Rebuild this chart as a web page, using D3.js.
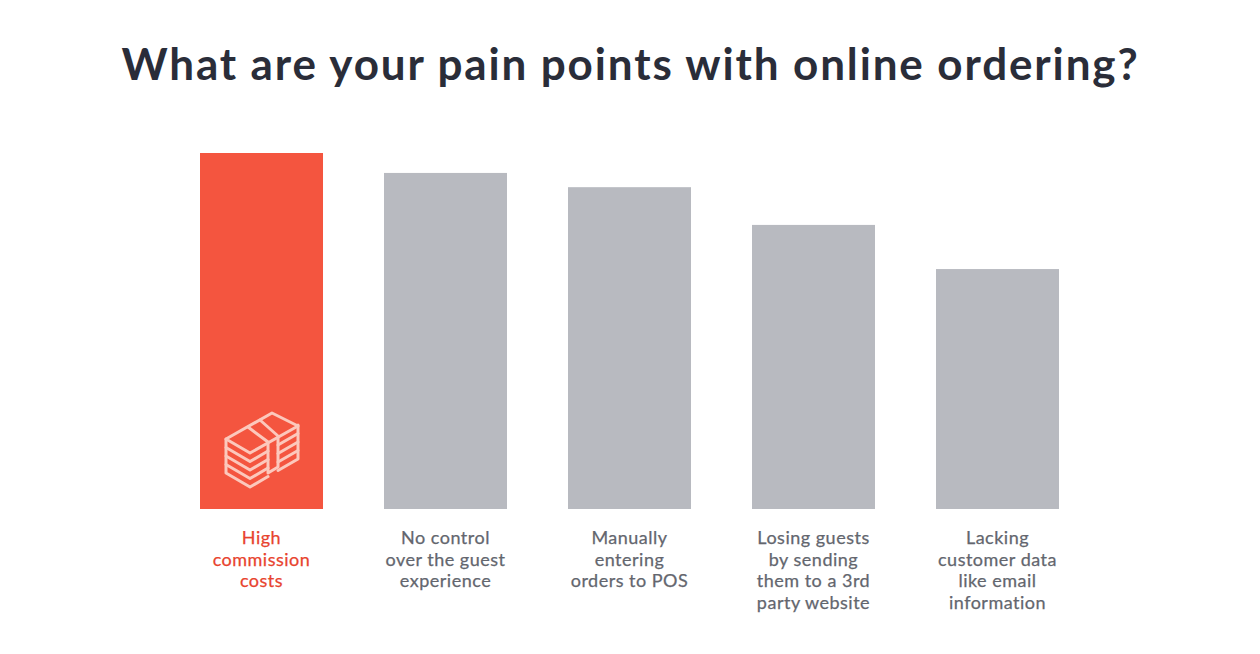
<!DOCTYPE html>
<html>
<head>
<meta charset="utf-8">
<script src="https://d3js.org/d3.v7.min.js"></script>
<style>
  html, body { margin: 0; background: #fff; }
  text { font-family: Lato, sans-serif; }
</style>
</head>
<body>
<svg id="chart" width="1260" height="654"></svg>
<script>
// values, tallest bar = 100
var categories = ["High commission costs", "No control over the guest experience", "Manually entering orders to POS", "Losing guests by sending them to a 3rd party website", "Lacking customer data like email information"];
var values = [100, 94.4, 90.4, 79.8, 67.4];
var labelLines = [
  ["High", "commission", "costs"],
  ["No control", "over the guest", "experience"],
  ["Manually", "entering", "orders to POS"],
  ["Losing guests", "by sending", "them to a 3rd", "party website"],
  ["Lacking", "customer data", "like email", "information"]
];
var title = "What are your pain points with online ordering?";

var svg = d3.select("#chart");

var x = d3.scaleBand().domain(categories).range([200, 1059]).paddingInner(0.3315);
var y = d3.scaleLinear().domain([0, 100]).range([509, 153]);

// Title
svg.append("text")
  .attr("x", 630.5)
  .attr("y", 80)
  .attr("text-anchor", "middle")
  .attr("font-size", 44)
  .attr("font-weight", 700)
  .attr("letter-spacing", 1.87)
  .attr("fill", "#2a2d39")
  .text(title);

// Bars
svg.selectAll("rect.bar")
  .data(categories)
  .join("rect")
  .attr("class", "bar")
  .attr("x", d => x(d))
  .attr("y", (d, i) => y(values[i]))
  .attr("width", x.bandwidth())
  .attr("height", (d, i) => y(0) - y(values[i]))
  .attr("fill", (d, i) => i == 0 ? "#f4553f" : "#b8bac0");

// Labels under the bars
var labels = svg.selectAll("text.label")
  .data(categories)
  .join("text")
  .attr("class", "label")
  .attr("text-anchor", "middle")
  .attr("font-size", 18)
  .attr("letter-spacing", 0.5)
  .attr("stroke-width", 0.25)
  .attr("stroke", (d, i) => i == 0 ? "#e8432e" : "#63666e")
  .attr("fill", (d, i) => i == 0 ? "#e8432e" : "#63666e");

labels.each(function (d, i) {
  d3.select(this).selectAll("tspan")
    .data(labelLines[i])
    .join("tspan")
    .attr("x", x(d) + x.bandwidth() / 2)
    .attr("y", (line, j) => 544 + j * 21.6)
    .text(line => line);
});

// Money stack icon on the first bar
var icon = svg.append("g")
  .attr("fill", "none")
  .attr("stroke", "#fcc8bc")
  .attr("stroke-width", 3)
  .attr("stroke-linejoin", "round")
  .attr("stroke-linecap", "round");

icon.append("path").attr("d", "M226 439 L272 413 L298 426 L250 453 Z");
[8.5, 17, 25.5, 34].forEach(function (dy) {
  icon.append("path")
    .attr("d", `M226 ${439 + dy - 8.5} L226 ${439 + dy} L250 ${453 + dy} L268 ${442.5 + dy}`);
  icon.append("path")
    .attr("d", `M278 ${436.5 + dy} L298 ${425 + dy} L298 ${425 + dy - 8.5}`);
});
icon.append("path").attr("d", "M248 427 L268 442 L268 473 L278 467 L278 436 L260 420");
</script>
</body>
</html>
